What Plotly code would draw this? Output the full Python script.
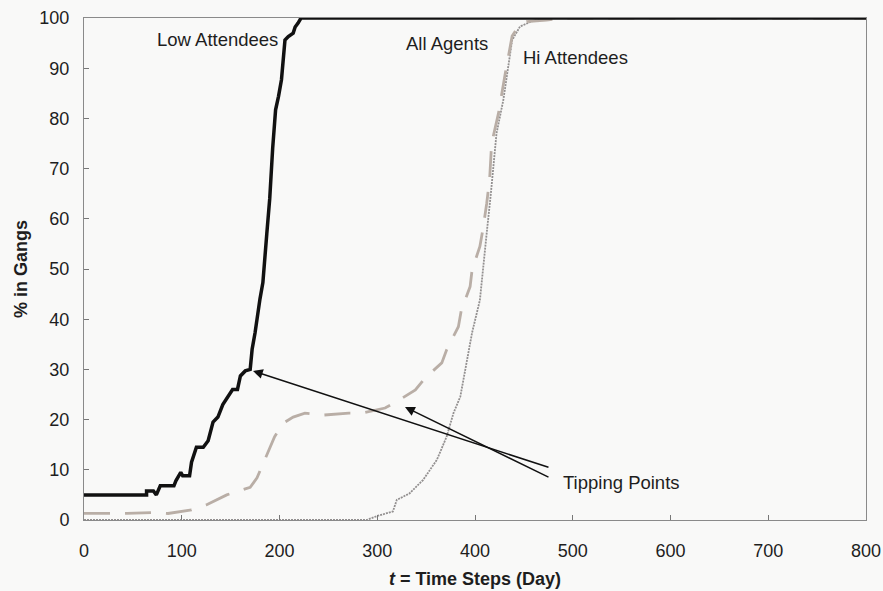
import plotly.graph_objects as go

# Time steps (days) and share of agents in gangs (%) for each group
low_t = [0, 64, 64, 71, 74, 78, 80, 92, 94, 99, 101, 108, 110, 115, 122, 127, 132, 137,
         142, 147, 152, 157, 160, 165, 170, 172, 175, 180, 183, 187, 190, 193, 196, 199,
         202, 205.6, 209, 214, 216, 219, 222, 800]
low_pct = [5, 5, 5.8, 5.8, 5, 6.8, 6.8, 6.8, 7.8, 9.5, 8.8, 8.8, 11.5, 14.5, 14.5, 15.8,
           19.5, 20.5, 23, 24.5, 26, 26, 28.7, 29.7, 30, 34, 37.3, 44, 47.3, 57, 64, 74,
           81.7, 84.4, 87.7, 95.6, 96.3, 97, 98.2, 99, 100, 100]

all_t = [0, 44, 70, 86, 110, 125, 146, 161, 170, 177, 185, 195, 204, 214, 226, 245, 271,
         285, 308, 320, 339, 349, 366, 371, 383, 386, 395, 397, 405, 408, 412, 415, 417,
         424, 431, 438, 445, 453, 473, 490, 800]
all_pct = [1.3, 1.3, 1.5, 1.3, 2.0, 3.0, 5.0, 6.0, 6.5, 8.4, 12, 16.6, 19.3, 20.5, 21.3,
           20.9, 21.3, 21.3, 22.3, 23.6, 25.9, 28.3, 31.3, 33.9, 38.5, 41.8, 46.5, 49.8,
           54.5, 57.8, 63.1, 68, 75, 81, 89, 96.4, 98.5, 99.3, 99.6, 100, 100]

hi_t = [0, 289, 300, 316, 320, 333, 347, 361, 371, 378, 385, 388, 397, 405, 409, 412, 416,
        422, 429, 434, 438, 446, 460, 480, 800]
hi_pct = [0, 0, 0.8, 1.7, 4, 5.3, 8, 12, 16.6, 21.3, 24.6, 27.9, 37.3, 43.8, 50.7, 57.2,
          64.6, 77, 83.7, 90.4, 95.6, 98.3, 99.5, 100, 100]

# Curve labels: text, x, y
labels = [
    ("Low Attendees", 137, 95.8),
    ("All Agents", 371, 95.0),
    ("Hi Attendees", 503, 92.2),
    ("Tipping Points", 550, 7.4),
]

# Arrows pointing at the tipping points: (head_x, head_y, tail_x, tail_y)
arrows = [
    (172.9, 29.7, 476.7, 10.4),
    (328.4, 22.5, 476.7, 8.4),
]

x_ticks = [0, 100, 200, 300, 400, 500, 600, 700, 800]
y_ticks = [0, 10, 20, 30, 40, 50, 60, 70, 80, 90, 100]

FONT = "Liberation Sans, Arial, sans-serif"
TXT = "#1e1e1e"

fig = go.Figure()

fig.add_trace(go.Scatter(
    x=hi_t, y=hi_pct, mode="lines", name="Hi Attendees",
    line=dict(color="#939090", width=1.8, dash="2px,1px"),
))
fig.add_trace(go.Scatter(
    x=all_t, y=all_pct, mode="lines", name="All Agents",
    line=dict(color="#b9aea6", width=2.8, dash="26px,15px"),
))
fig.add_trace(go.Scatter(
    x=low_t, y=low_pct, mode="lines", name="Low Attendees",
    line=dict(color="#111111", width=3.5),
))

for text, x, y in labels:
    fig.add_annotation(x=x, y=y, text=text, showarrow=False,
                       font=dict(family=FONT, size=18.5, color=TXT),
                       xanchor="center", yanchor="middle")

for hx, hy, tx, ty in arrows:
    fig.add_annotation(x=hx, y=hy, ax=tx, ay=ty, axref="x", ayref="y",
                       text="", showarrow=True, arrowhead=2, arrowsize=1.3,
                       arrowwidth=1.5, arrowcolor="#111111")

fig.update_layout(
    width=883, height=591,
    margin=dict(l=84, r=17, t=18, b=71, autoexpand=False),
    paper_bgcolor="#f9f9f8", plot_bgcolor="#f9f9f8",
    showlegend=False,
    font=dict(family=FONT, size=18, color=TXT),
)

fig.update_xaxes(
    range=[0, 800], tickvals=x_ticks, ticks="inside", ticklen=5, tickcolor="#777",
    showgrid=False, zeroline=False, showline=True, linecolor="#8a8a8a", linewidth=1,
    mirror=True, ticklabelstandoff=14, automargin=False,
    tickfont=dict(family=FONT, size=18, color=TXT),
    title=dict(text="<b><i>t</i> = Time Steps (Day)</b>", standoff=12,
               font=dict(family=FONT, size=18, color=TXT)),
)
fig.update_yaxes(
    range=[0, 100], tickvals=y_ticks, ticks="inside", ticklen=5, tickcolor="#777",
    showgrid=False, zeroline=False, showline=True, linecolor="#8a8a8a", linewidth=1,
    mirror=True, ticklabelstandoff=10, automargin=False,
    tickfont=dict(family=FONT, size=18, color=TXT),
    title=dict(text="<b>% in Gangs</b>", standoff=7,
               font=dict(family=FONT, size=18, color=TXT)),
)

fig.write_html("out.html")
